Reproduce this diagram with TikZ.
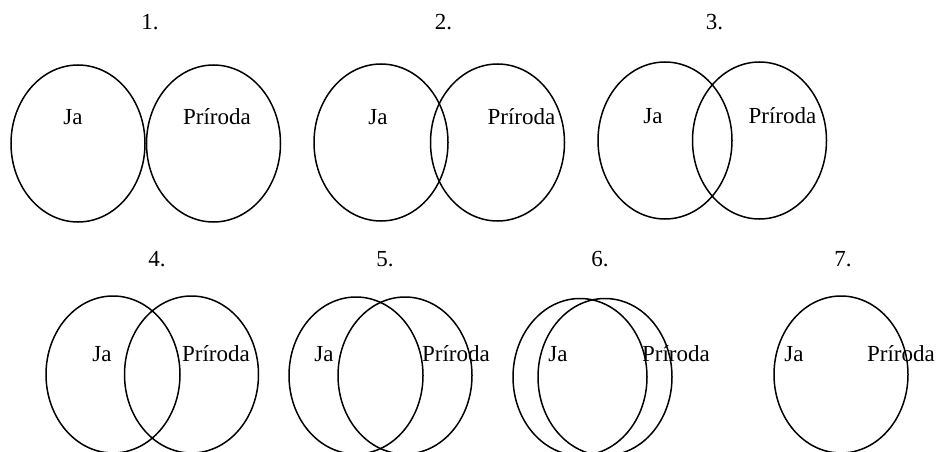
\documentclass[tikz,border=0pt]{standalone}
\usepackage{fontspec}
\setmainfont{Liberation Serif}
\usetikzlibrary{shapes.geometric}

\begin{document}
\begin{tikzpicture}[x=1pt,y=-1pt,line width=1.5pt,
        ring/.style={draw, ellipse, inner sep=0pt, minimum width=134pt, minimum height=157pt},
        lbl/.style={anchor=base, inner sep=0pt, font=\fontsize{23}{27}\selectfont}]
        \useasboundingbox (0,0) rectangle (939,452);
        % row 1
        \node (num1) [lbl] at (150,30) {1.};
        \node (ja1) [ring] at (78,143.5) {};
        \node (pr1) [ring] at (213.5,143.5) {};
        \node (tja1) [lbl] at (73,124) {Ja};
        \node (tpr1) [lbl] at (217,124) {Príroda};

        \node (num2) [lbl] at (443.5,30) {2.};
        \node (ja2) [ring] at (381,142.5) {};
        \node (pr2) [ring] at (497.5,142.5) {};
        \node (tja2) [lbl] at (378,124) {Ja};
        \node (tpr2) [lbl] at (521.5,124) {Príroda};

        \node (num3) [lbl] at (714.5,30) {3.};
        \node (ja3) [ring] at (665,140.5) {};
        \node (pr3) [ring] at (759.5,140.5) {};
        \node (tja3) [lbl] at (653,123.5) {Ja};
        \node (tpr3) [lbl] at (782.5,123.5) {Príroda};
        % row 2
        \node (num4) [lbl] at (157,266) {4.};
        \node (ja4) [ring] at (113,374.5) {};
        \node (pr4) [ring] at (191.5,374.5) {};
        \node (tja4) [lbl] at (102,361) {Ja};
        \node (tpr4) [lbl] at (216,361) {Príroda};

        \node (num5) [lbl] at (385,266) {5.};
        \node (ja5) [ring] at (356,375.5) {};
        \node (pr5) [ring] at (405,375.5) {};
        \node (tja5) [lbl] at (324,361) {Ja};
        \node (tpr5) [lbl] at (456,361) {Príroda};

        \node (num6) [lbl] at (600,266) {6.};
        \node (ja6) [ring] at (580,377) {};
        \node (pr6) [ring] at (605,377) {};
        \node (tja6) [lbl] at (558,361) {Ja};
        \node (tpr6) [lbl] at (676,361) {Príroda};

        \node (num7) [lbl] at (843,266) {7.};
        \node (jp7) [ring] at (841,374.5) {};
        \node (tja7) [lbl] at (794,361) {Ja};
        \node (tpr7) [lbl] at (901,361) {Príroda};
    \end{tikzpicture}
\end{document}
